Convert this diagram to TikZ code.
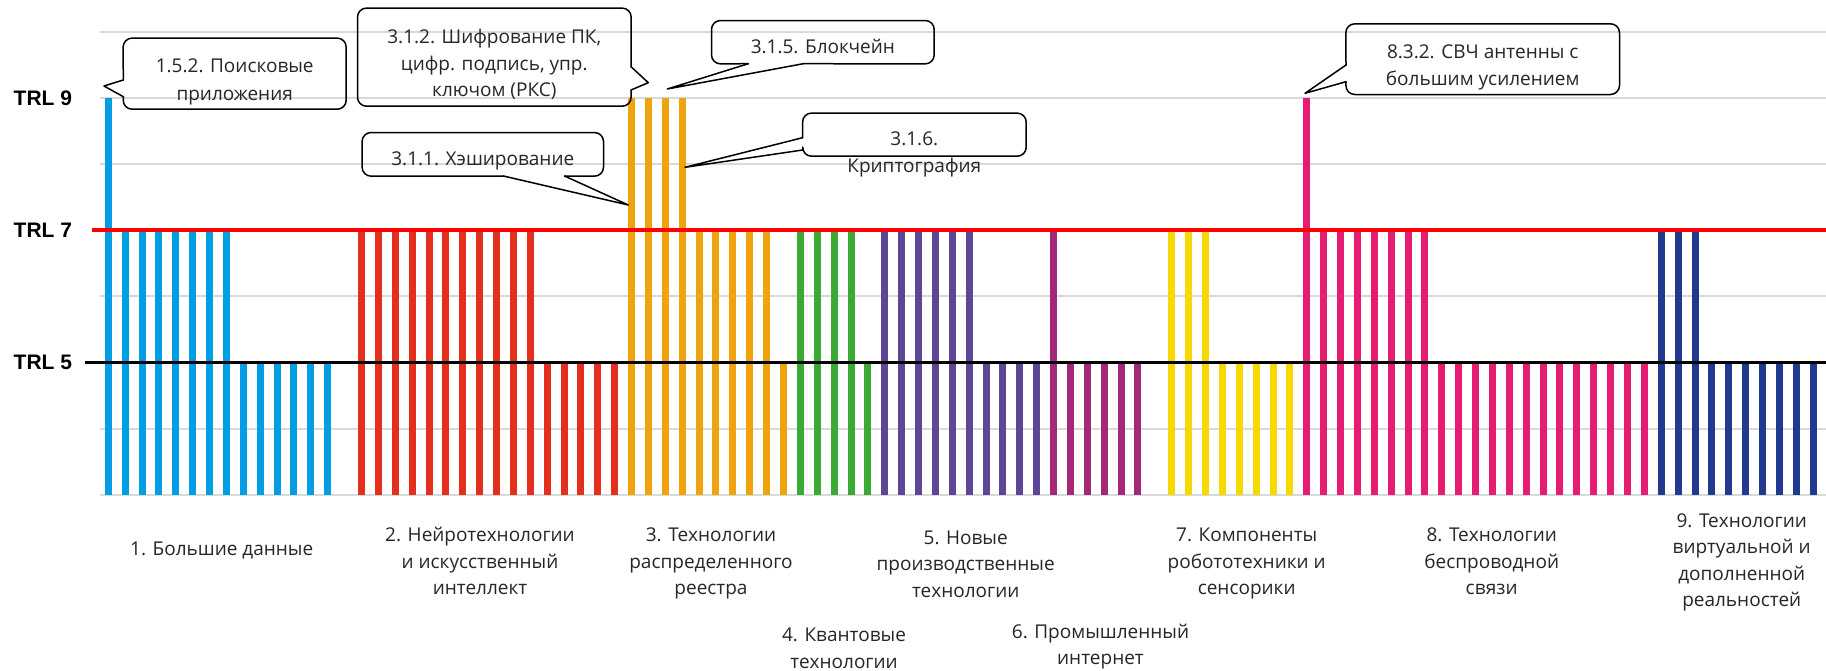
\documentclass[tikz,border=0pt]{standalone}
\usepackage{fontspec}
\setmainfont{Open Sans}
\newfontfamily\trlfont{Liberation Sans}
\definecolor{cblue}{HTML}{009FE3}
\definecolor{cred}{HTML}{E42F1F}
\definecolor{corange}{HTML}{F0A30C}
\definecolor{cgreen}{HTML}{3BAA35}
\definecolor{cpurple}{HTML}{5E4696}
\definecolor{cplum}{HTML}{A4287A}
\definecolor{cyellow}{HTML}{F7D800}
\definecolor{cpink}{HTML}{E61C72}
\definecolor{cnavy}{HTML}{213A8F}
\definecolor{cgrid}{HTML}{D9D9D9}
\definecolor{ctext}{HTML}{262626}
\begin{document}
\begin{tikzpicture}[x=1pt,y=-1pt,
  gridline/.style={cgrid,line width=2pt},
  trlline/.style={line width=3.5pt},
  trl/.style={font=\trlfont\bfseries\fontsize{21}{25}\selectfont,inner sep=0pt,anchor=west},
  lbl/.style={font=\fontsize{19}{24}\selectfont,text=ctext,inner sep=0pt,anchor=base},
  cbox/.style={draw=none,inner sep=0pt},
  cline/.style={draw=black,line width=1.5pt,line cap=round,line join=round},
]
\useasboundingbox (0,0) rectangle (1826,670);
\fill[white] (0,0) rectangle (1826,670);
% grid
\foreach \t in {3,4,6,8,9,10}
  \draw[gridline] (100,{495-66.19*(\t-3)}) -- (1826,{495-66.19*(\t-3)});
% bars
\foreach \c/\a/\b/\t in {cblue/0/0/9,cblue/1/7/7,cblue/8/13/5,cred/15/25/7,cred/26/30/5,corange/31/34/9,corange/35/39/7,corange/40/40/5,cgreen/41/44/7,cgreen/45/45/5,cpurple/46/51/7,cpurple/52/55/5,cplum/56/56/7,cplum/57/61/5,cyellow/63/65/7,cyellow/66/70/5,cpink/71/71/9,cpink/72/78/7,cpink/79/91/5,cnavy/92/94/7,cnavy/95/101/5}
  \foreach \i in {\a,...,\b}
    \fill[\c] ({108.3+16.88*\i-3.5},495) rectangle ({108.3+16.88*\i+3.5},{495-66.19*(\t-3)});
% TRL lines
\draw[trlline,red] (92,230.2) -- (1826,230.2);
\draw[trlline,black] (85,362.6) -- (1826,362.6);
\node[trl] (trl9) at (13.5,97.9) {TRL 9};
\node[trl] (trl7) at (13.5,230.2) {TRL 7};
\node[trl] (trl5) at (13.5,362.6) {TRL 5};
% callout 1.5.2
\node[cbox,minimum width=222.7pt,minimum height=70.7pt] (c152) at (234.65,73.65) {};
\coordinate (c152a) at (123.3,80); \coordinate (c152b) at (123.3,96.7); \coordinate (c152p) at (104,86);
\draw[cline,rounded corners=9pt] (c152a) -- (c152.north west) -- (c152.north east) -- (c152.south east) -- (c152.south west) -- (c152b);
\draw[cline] (c152a) -- (c152p) -- (c152b);
\node[lbl] (t152a) at (234.7,72.7) {1.5.2. Поисковые};
\node[lbl] (t152b) at (234.7,100.7) {приложения};
% callout 3.1.2
\node[cbox,minimum width=273.3pt,minimum height=97.7pt] (c312) at (494.35,57.15) {};
\coordinate (c312a) at (631,66.7); \coordinate (c312b) at (631,90); \coordinate (c312p) at (648.3,82.7);
\draw[cline,rounded corners=9pt] (c312b) -- (c312.south east) -- (c312.south west) -- (c312.north west) -- (c312.north east) -- (c312a);
\draw[cline] (c312a) -- (c312p) -- (c312b);
\node[lbl] (t312a) at (494.3,43.3) {3.1.2. Шифрование ПК,};
\node[lbl] (t312b) at (494.3,70.3) {цифр. подпись, упр.};
\node[lbl] (t312c) at (494.3,96.3) {ключом (РКС)};
% callout 3.1.1
\node[cbox,minimum width=241pt,minimum height=43.3pt] (c311) at (482.8,154.35) {};
\coordinate (c311a) at (503.4,176); \coordinate (c311b) at (564.5,176); \coordinate (c311p) at (628.3,205);
\draw[cline,rounded corners=9pt] (c311a) -- (c311.south west) -- (c311.north west) -- (c311.north east) -- (c311.south east) -- (c311b);
\draw[cline] (c311a) -- (c311p) -- (c311b);
\node[lbl] (t311) at (482.8,165.7) {3.1.1. Хэширование};
% callout 3.1.5
\node[cbox,minimum width=222.3pt,minimum height=43pt] (c315) at (822.85,42.2) {};
\coordinate (c315a) at (748.3,63.7); \coordinate (c315b) at (803.3,63.7); \coordinate (c315p) at (667.3,89);
\draw[cline,rounded corners=9pt] (c315a) -- (c315.south west) -- (c315.north west) -- (c315.north east) -- (c315.south east) -- (c315b);
\draw[cline] (c315a) -- (c315p) -- (c315b);
\node[lbl] (t315) at (822.8,53.3) {3.1.5. Блокчейн};
% callout 3.1.6
\node[cbox,minimum width=223.3pt,minimum height=42.7pt] (c316) at (914.35,134.65) {};
\coordinate (c316a) at (802.7,137.7); \coordinate (c316b) at (802.7,150); \coordinate (c316p) at (685,167.3);
\draw[cline,rounded corners=9pt] (c316a) -- (c316.north west) -- (c316.north east) -- (c316.south east) -- (c316.south west) -- (c316b);
\draw[cline] (c316a) -- (c316p) -- (c316b);
\node[lbl] (t316a) at (914.3,145.7) {3.1.6.};
\node[lbl] (t316b) at (914.3,172.3) {Криптография};
% callout 8.3.2
\node[cbox,minimum width=273.3pt,minimum height=70.3pt] (c832) at (1482.65,59.15) {};
\coordinate (c832a) at (1346,65); \coordinate (c832b) at (1346,81.7); \coordinate (c832p) at (1305,93.3);
\draw[cline,rounded corners=9pt] (c832a) -- (c832.north west) -- (c832.north east) -- (c832.south east) -- (c832.south west) -- (c832b);
\draw[cline] (c832a) -- (c832p) -- (c832b);
\node[lbl] (t832a) at (1482.7,58.3) {8.3.2. СВЧ антенны с};
\node[lbl] (t832b) at (1482.7,85) {большим усилением};
% group labels
\node[lbl] (g1) at (221.7,555.7) {1. Большие данные};
\node[lbl] (g2a) at (480,541.7) {2. Нейротехнологии};
\node[lbl] (g2b) at (480,568.2) {и искусственный};
\node[lbl] (g2c) at (480,594.7) {интеллект};
\node[lbl] (g3a) at (711,541.7) {3. Технологии};
\node[lbl] (g3b) at (711,568.2) {распределенного};
\node[lbl] (g3c) at (711,594.7) {реестра};
\node[lbl] (g4a) at (844,641.7) {4. Квантовые};
\node[lbl] (g4b) at (844,668.2) {технологии};
\node[lbl] (g5a) at (965.7,544) {5. Новые};
\node[lbl] (g5b) at (965.7,570.5) {производственные};
\node[lbl] (g5c) at (965.7,597) {технологии};
\node[lbl] (g6a) at (1100.5,638.3) {6. Промышленный};
\node[lbl] (g6b) at (1100.5,664.8) {интернет};
\node[lbl] (g7a) at (1246.7,541.7) {7. Компоненты};
\node[lbl] (g7b) at (1246.7,568.2) {робототехники и};
\node[lbl] (g7c) at (1246.7,594.7) {сенсорики};
\node[lbl] (g8a) at (1491.7,541.7) {8. Технологии};
\node[lbl] (g8b) at (1491.7,568.2) {беспроводной};
\node[lbl] (g8c) at (1491.7,594.7) {связи};
\node[lbl] (g9a) at (1741.7,527.3) {9. Технологии};
\node[lbl] (g9b) at (1741.7,553.8) {виртуальной и};
\node[lbl] (g9c) at (1741.7,580.3) {дополненной};
\node[lbl] (g9d) at (1741.7,606.8) {реальностей};
\end{tikzpicture}
\end{document}
